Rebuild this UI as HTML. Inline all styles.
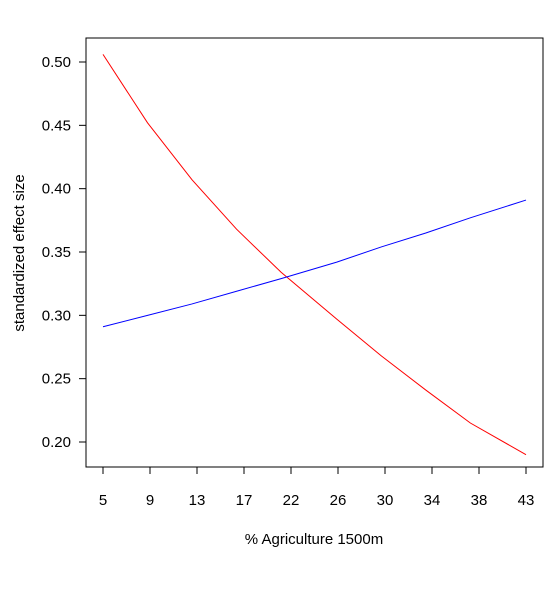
<!DOCTYPE html>
<html><head><meta charset="utf-8"><style>
body{margin:0;background:#fff;}
svg text{font-family:"Liberation Sans",Arial,sans-serif;fill:#000;}
</style></head><body>
<svg id="chart" width="554" height="586" xmlns="http://www.w3.org/2000/svg"></svg>
<script>
const xVals=[5,9,13,17,21,26,30,34,38,43];
const redVals=[0.506,0.452,0.407,0.368,0.334,0.297,0.268,0.241,0.215,0.190];
const blueVals=[0.291,0.300,0.309,0.319,0.329,0.342,0.354,0.365,0.377,0.391];
const xTicks=[5,9.222,13.444,17.667,21.889,26.111,30.333,34.556,38.778,43];
const xTickLabels=['5','9','13','17','22','26','30','34','38','43'];
const yTicks=[0.20,0.25,0.30,0.35,0.40,0.45,0.50];
const NS="http://www.w3.org/2000/svg";
const svg=document.getElementById('chart');
const X=v=>103+(v-5)*(526-103)/38;
const Y=v=>442-(v-0.20)*(442-62)/0.30;
function mk(t,a,p){const e=document.createElementNS(NS,t);for(const k in a)e.setAttribute(k,a[k]);(p||svg).appendChild(e);return e;}
const box=mk('rect',{x:86,y:38,width:457,height:429,fill:'none',stroke:'#000','stroke-width':1});


const xa=mk('g',{});


mk('line',{x1:X(5),x2:X(43),y1:467,y2:467,stroke:'#000'},xa);
xTicks.forEach((t,i)=>{mk('line',{x1:X(t),x2:X(t),y1:467,y2:474,stroke:'#000'},xa);
 const tx=mk('text',{x:X(t),y:505,'text-anchor':'middle','font-size':15},xa);tx.textContent=xTickLabels[i];
 
 });
const ya=mk('g',{});


mk('line',{x1:86,x2:86,y1:Y(0.20),y2:Y(0.50),stroke:'#000'},ya);
yTicks.forEach(t=>{mk('line',{x1:79,x2:86,y1:Y(t),y2:Y(t),stroke:'#000'},ya);
 const tx=mk('text',{x:71,y:Y(t)+5,'text-anchor':'end','font-size':15},ya);tx.textContent=t.toFixed(2);
 
 });
const xt=mk('text',{x:314,y:544,'text-anchor':'middle','font-size':15});xt.textContent='% Agriculture 1500m';


const yt=mk('text',{x:24,y:253,'text-anchor':'middle','font-size':15,transform:'rotate(-90 24 253)'});yt.textContent='standardized effect size';


const r=mk('polyline',{points:xVals.map((x,i)=>X(x)+','+Y(redVals[i])).join(' '),fill:'none',stroke:'#f00','stroke-width':1});


const b=mk('polyline',{points:xVals.map((x,i)=>X(x)+','+Y(blueVals[i])).join(' '),fill:'none',stroke:'#00f','stroke-width':1});


</script>
</body></html>
